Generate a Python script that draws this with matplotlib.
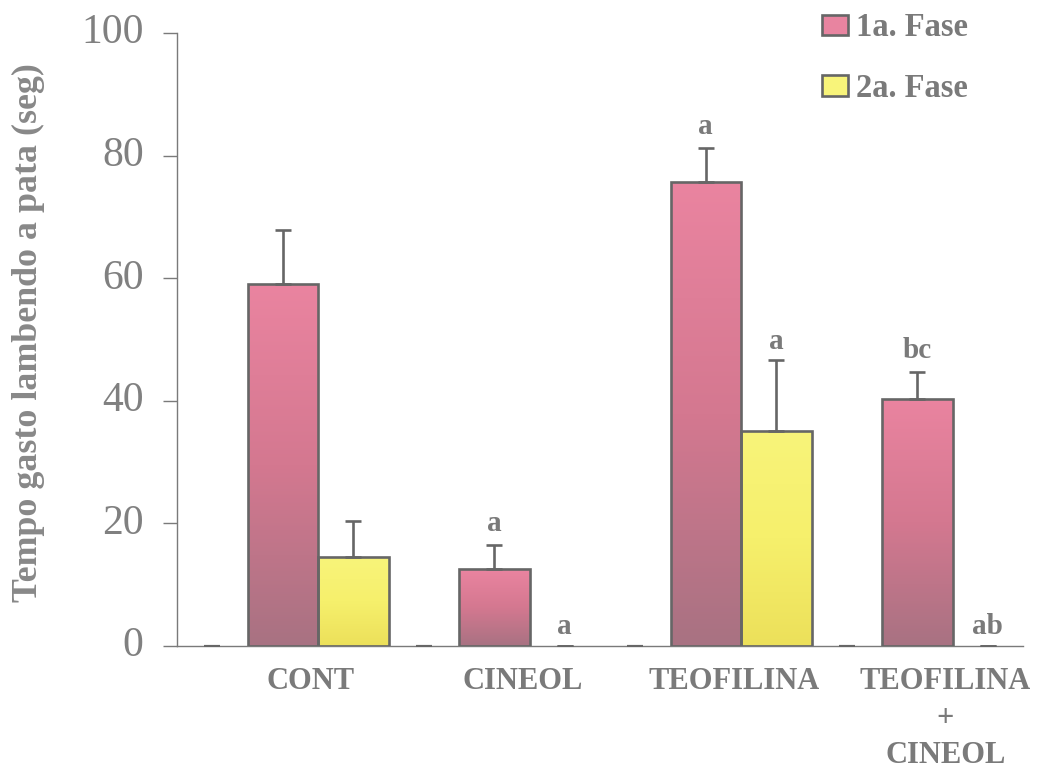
import numpy as np
import matplotlib.pyplot as plt
from matplotlib.colors import LinearSegmentedColormap
from matplotlib.patches import Patch

grupos = ['CONT', 'CINEOL', 'TEOFILINA', 'TEOFILINA\n+\nCINEOL']
fase1 = [59.0, 12.5, 75.7, 40.3]
fase1_err = [8.8, 4.0, 5.5, 4.4]
fase2 = [14.5, 0.0, 35.1, 0.0]
fase2_err = [5.9, 0.0, 11.5, 0.0]
vazio = [0.0, 0.0, 0.0, 0.0]
letras1 = ['', 'a', 'a', 'bc']
letras2 = ['', 'a', 'a', 'ab']

cinza = '#7a7a7a'
borda = '#666666'
rosa = LinearSegmentedColormap.from_list('rosa', ['#a87282', '#d47890', '#ea84a0'])
amarelo = LinearSegmentedColormap.from_list('amarelo', ['#ece05a', '#f6f06c', '#f8f47a'])

plt.rcParams['font.family'] = ['Liberation Serif', 'DejaVu Serif']

fig = plt.figure(figsize=(10.37, 7.70), dpi=100)
ax = fig.add_axes([0.1707, 0.161, 0.8158, 0.796])

x = np.arange(len(grupos)) * 3
w = 1.0


def barras(pos, vals, errs, cmap):
    bars = ax.bar(pos, vals, w, color='none', edgecolor=borda, linewidth=1.9, zorder=3)
    grad = np.linspace(0, 1, 256).reshape(-1, 1)
    for b, v in zip(bars, vals):
        if v <= 0:
            b.set_linewidth(0)
            continue
        x0 = b.get_x()
        im = ax.imshow(grad, cmap=cmap, origin='lower', aspect='auto',
                       extent=[x0, x0 + w, 0, v], zorder=2)
        im.set_clip_path(b)
    ax.errorbar(pos, vals, yerr=[np.zeros(len(errs)), errs], fmt='none',
                ecolor=borda, elinewidth=1.9, capsize=6, capthick=1.9, zorder=4)
    return bars


# serie vazia: so aparecem os tracos do erro na base
ax.errorbar(x, vazio, yerr=[vazio, vazio], fmt='none', ecolor=borda,
            elinewidth=1.5, capsize=6, capthick=1.5, zorder=4)
barras(x + 1, fase1, fase1_err, rosa)
barras(x + 2, fase2, fase2_err, amarelo)

for xi, v, e, t in zip(x + 1, fase1, fase1_err, letras1):
    if t:
        ax.annotate(t, (xi, v + e), xytext=(0, 6), textcoords='offset points',
                    ha='center', va='bottom', fontsize=21, fontweight='bold', color=cinza)
for xi, v, e, t in zip(x + 2, fase2, fase2_err, letras2):
    if t:
        ax.annotate(t, (xi, v + e), xytext=(0, 4), textcoords='offset points',
                    ha='center', va='bottom', fontsize=21, fontweight='bold', color=cinza)

ax.set_xlim(-0.5, 11.5)
ax.set_ylim(0, 100)
ax.set_yticks(np.arange(0, 101, 20))
ax.set_xticks(x + 1.4)
ax.set_xticklabels(grupos, fontsize=22, fontweight='bold', color=cinza, linespacing=1.36)
ax.tick_params(axis='x', length=0, pad=15)
ax.tick_params(axis='y', length=10, width=1, color=cinza, labelsize=30,
               labelcolor='#808080', pad=14)
for lbl in ax.get_yticklabels():
    lbl.set_verticalalignment('center')

for s in ['top', 'right']:
    ax.spines[s].set_visible(False)
for s in ['left', 'bottom']:
    ax.spines[s].set_color(cinza)
    ax.spines[s].set_linewidth(1.0)

ax.set_ylabel('Tempo gasto lambendo a pata (seg)', fontsize=25.8, fontweight='bold',
              color='#888888')
ax.yaxis.set_label_coords(-0.156, 0.512)

handles = [Patch(facecolor='#e884a0', edgecolor=borda, linewidth=1.9, label='1a. Fase'),
           Patch(facecolor='#f8f47a', edgecolor=borda, linewidth=1.9, label='2a. Fase')]
leg = fig.legend(handles=handles, loc='upper left', bbox_to_anchor=(0.777, 1.005),
                 frameon=False, handlelength=0.8, handleheight=0.6, handletextpad=0.25,
                 labelspacing=0.9, borderpad=0,
                 prop={'family': 'Liberation Serif', 'weight': 'bold', 'size': 23.5})
for t in leg.get_texts():
    t.set_color(cinza)

fig.savefig('out.png', dpi=100)
plt.close(fig)
